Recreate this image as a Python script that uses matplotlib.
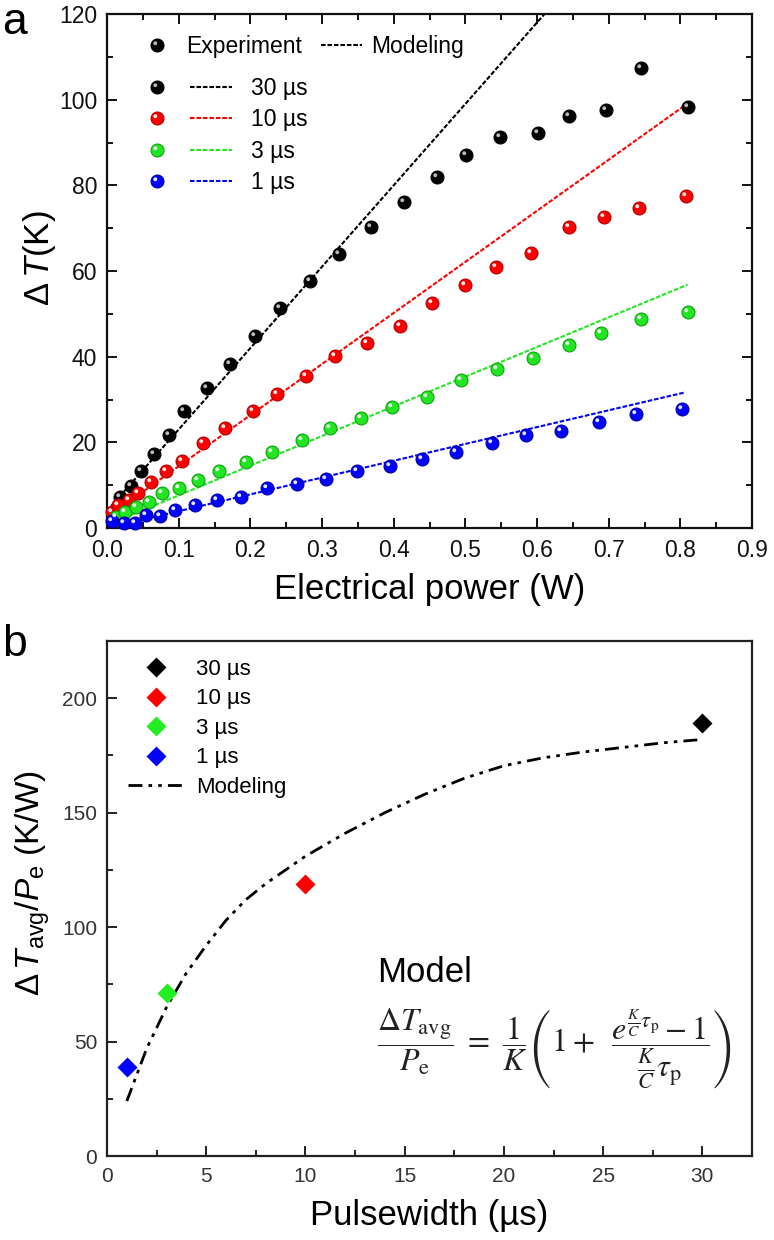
import matplotlib
matplotlib.use('Agg')
import matplotlib.pyplot as plt
from matplotlib.path import Path
from matplotlib.lines import Line2D
from matplotlib.legend_handler import HandlerTuple
from matplotlib.ticker import MultipleLocator, FormatStrFormatter

plt.rcParams['font.family'] = ['Liberation Sans', 'DejaVu Sans']
plt.rcParams['mathtext.fontset'] = 'custom'
plt.rcParams['mathtext.rm'] = 'Liberation Sans'
plt.rcParams['mathtext.it'] = 'Liberation Sans:italic'
plt.rcParams['mathtext.bf'] = 'Liberation Sans:bold'

# ---------------- Panel a data ----------------
pulse_labels = ['30 µs', '10 µs', '3 µs', '1 µs']
series_colors = ['#000000', '#ff0000', '#22e622', '#0000ff']
edge_colors = ['#000000', '#b00000', '#10a010', '#0000a0']
hl_colors = ['#d0d0d0', '#ffffff', '#ffffff', '#ffffff']

x30 = [0.018, 0.033, 0.048, 0.065, 0.086, 0.107, 0.139, 0.172, 0.207, 0.241, 0.283,
       0.324, 0.368, 0.414, 0.460, 0.501, 0.549, 0.602, 0.645, 0.696, 0.745, 0.811]
y30 = [7.3, 9.7, 13.2, 17.2, 21.7, 27.2, 32.6, 38.4, 44.8, 51.3, 57.7,
       63.9, 70.2, 76.1, 82.0, 87.1, 91.4, 92.3, 96.3, 97.7, 107.5, 98.2]

x10 = [0.007, 0.016, 0.030, 0.043, 0.061, 0.083, 0.105, 0.134, 0.165, 0.204, 0.237, 0.277,
       0.318, 0.363, 0.409, 0.453, 0.500, 0.543, 0.592, 0.645, 0.693, 0.742, 0.808]
y10 = [3.8, 5.4, 6.5, 8.1, 10.8, 13.2, 15.6, 19.8, 23.3, 27.2, 31.3, 35.6,
       40.2, 43.1, 47.2, 52.5, 56.7, 61.0, 64.1, 70.3, 72.7, 74.8, 77.4]

x3 = [0.012, 0.025, 0.040, 0.058, 0.077, 0.101, 0.127, 0.156, 0.194, 0.230, 0.272,
      0.311, 0.355, 0.398, 0.446, 0.494, 0.544, 0.594, 0.644, 0.689, 0.745, 0.811]
y3 = [2.5, 3.7, 4.8, 6.1, 8.1, 9.3, 11.2, 13.2, 15.3, 17.8, 20.5,
      23.3, 25.6, 28.2, 30.7, 34.6, 37.1, 39.8, 42.7, 45.6, 48.7, 50.5]

x1 = [0.007, 0.024, 0.039, 0.054, 0.074, 0.095, 0.123, 0.153, 0.187, 0.223, 0.265,
      0.306, 0.349, 0.395, 0.440, 0.487, 0.537, 0.584, 0.634, 0.686, 0.738, 0.803]
y1 = [1.7, 1.1, 1.2, 3.0, 2.8, 4.2, 5.4, 6.5, 7.3, 9.3, 10.3,
      11.4, 13.2, 14.5, 16.1, 17.8, 19.8, 21.6, 22.6, 24.8, 26.6, 27.8]

# modeling lines (start / end)
model_x30 = [0.0, 0.81]
model_y30 = [4.0, 157.9]
model_x10 = [0.0, 0.805]
model_y10 = [2.5, 98.5]
model_x3 = [0.0, 0.81]
model_y3 = [0.7, 56.8]
model_x1 = [0.0, 0.805]
model_y1 = [0.0, 31.6]

exp_x = [x30, x10, x3, x1]
exp_y = [y30, y10, y3, y1]
mod_x = [model_x30, model_x10, model_x3, model_x1]
mod_y = [model_y30, model_y10, model_y3, model_y1]

# ---------------- Panel b data ----------------
pulsewidth = [30, 10, 3, 1]
ratio = [189, 119, 71, 39]
diamond_colors = ['#000000', '#ff0000', '#22ee22', '#0000ff']

curve_t = [1, 2, 3, 4, 5, 6, 7, 8, 10, 12, 14, 16, 18, 20, 22, 24, 26, 28, 30]
curve_r = [24, 47, 65, 80, 92, 103, 112, 119, 131, 141, 150, 158, 165, 170.5, 174,
           176.5, 178.5, 180.5, 182]

# ---------------- styles ----------------
BALL_MS = 9.3
hl_path = Path.circle(center=(-0.35, 0.35), radius=0.30)
model_ls = (0, (2.2, 0.9))
dashdotdot = (0, (5, 2.2, 1.3, 2.2, 1.3, 2.2))

fig = plt.figure(figsize=(7.74, 12.4), dpi=100)
axA = fig.add_axes([107/774, 1-528/1240, 645/774, 514/1240])
axB = fig.add_axes([107/774, 1-1156/1240, 645/774, 515/1240])


def ball_handles(i):
    ball = Line2D([], [], ls='none', marker='o', ms=BALL_MS,
                  mfc=series_colors[i], mec=edge_colors[i], mew=0.8)
    hl = Line2D([], [], ls='none', marker=hl_path, ms=BALL_MS*0.65,
                mfc=hl_colors[i], mec='none', alpha=0.9)
    return ball, hl


leg_handles = []
for i in range(4):
    axA.plot(mod_x[i], mod_y[i], color=series_colors[i], ls=model_ls, lw=1.5, zorder=2)
    axA.plot(exp_x[i], exp_y[i], ls='none', marker='o', ms=BALL_MS,
             mfc=series_colors[i], mec=edge_colors[i], mew=0.8, zorder=3, clip_on=False)
    axA.plot(exp_x[i], exp_y[i], ls='none', marker=hl_path, ms=BALL_MS*0.65,
             mfc=hl_colors[i], mec='none', alpha=0.9, zorder=4, clip_on=False)
    b, h = ball_handles(i)
    ln = Line2D([], [], color=series_colors[i], ls=model_ls, lw=1.5)
    leg_handles.append(((b, h), ln))

axA.set_xlim(0, 0.9)
axA.set_ylim(0, 120)
axA.xaxis.set_major_locator(MultipleLocator(0.1))
axA.xaxis.set_minor_locator(MultipleLocator(0.05))
axA.xaxis.set_major_formatter(FormatStrFormatter('%.1f'))
axA.yaxis.set_major_locator(MultipleLocator(20))
axA.yaxis.set_minor_locator(MultipleLocator(10))
axA.tick_params(which='both', direction='in', top=True, right=True, width=1.4,
                colors='#111111')
axA.tick_params(which='major', length=7)
axA.tick_params(which='minor', length=4)
axA.tick_params(axis='y', labelsize=16.5, pad=7)
axA.tick_params(axis='x', labelsize=16.5, pad=8)
for s in axA.spines.values():
    s.set_linewidth(1.6)
    s.set_color('#111111')

axA.set_xlabel('Electrical power (W)', fontsize=25, va='center')
axA.xaxis.set_label_coords(0.5, (528-590)/514)
axA.set_ylabel(r'$\Delta\,T$(K)', fontsize=25, va='center', ha='center')
axA.yaxis.set_label_coords((40-107)/645, (528-258)/514)

b0, h0 = ball_handles(0)
line0 = Line2D([], [], color='#000000', ls=model_ls, lw=1.5)
leg1 = axA.legend([(b0, h0), line0], ['Experiment', 'Modeling'], ncol=2,
                  loc='upper left', bbox_to_anchor=(0.045, 0.959), frameon=False,
                  borderpad=0, borderaxespad=0, handlelength=1.8, handletextpad=0.4,
                  columnspacing=0.8, fontsize=16.5)
axA.add_artist(leg1)
hmap = {hdl: HandlerTuple(ndivide=None, pad=0.5) for hdl in leg_handles}
leg2 = axA.legend(leg_handles, pulse_labels, loc='upper left',
                  bbox_to_anchor=(0.045, 0.878), frameon=False, borderpad=0,
                  borderaxespad=0, handlelength=4.2, handletextpad=0.8,
                  labelspacing=0.37, fontsize=16.5, handler_map=hmap)

# ---------------- Panel b ----------------
axB.plot(curve_t, curve_r, color='#000000', ls=dashdotdot, lw=2.0, zorder=2)
b_handles = []
for i in range(4):
    axB.plot([pulsewidth[i]], [ratio[i]], ls='none', marker='D', ms=10.5,
             mfc=diamond_colors[i], mec='none', zorder=3)
    b_handles.append(Line2D([], [], ls='none', marker='D', ms=10.5,
                            mfc=diamond_colors[i], mec='none'))
b_handles.append(Line2D([], [], color='#000000', ls=dashdotdot, lw=2.0))
axB.legend(b_handles, pulse_labels + ['Modeling'], loc='upper left',
           bbox_to_anchor=(0.033, 0.965), frameon=False, borderpad=0,
           borderaxespad=0, handlelength=2.5, handletextpad=0.55,
           labelspacing=0.38, fontsize=16)

axB.set_xlim(0, 32.5)
axB.set_ylim(0, 225)
axB.xaxis.set_major_locator(MultipleLocator(5))
axB.xaxis.set_minor_locator(MultipleLocator(2.5))
axB.yaxis.set_major_locator(MultipleLocator(50))
axB.yaxis.set_minor_locator(MultipleLocator(25))
axB.tick_params(which='both', direction='in', width=1.4, colors='#222222',
                labelcolor='#333333')
axB.tick_params(which='major', length=7)
axB.tick_params(which='minor', length=4)
axB.tick_params(axis='y', labelsize=15, pad=7)
axB.tick_params(axis='x', labelsize=15, pad=8)
for s in axB.spines.values():
    s.set_linewidth(1.6)
    s.set_color('#222222')

axB.set_xlabel('Pulsewidth (µs)', fontsize=25, va='center')
axB.xaxis.set_label_coords(0.5, (1156-1215)/515)
axB.set_ylabel(r'$\Delta\,T_{\mathrm{avg}}/P_{\mathrm{e}}$ (K/W)', fontsize=24,
               va='center', ha='center')
axB.yaxis.set_label_coords((33-107)/645, (1156-883)/515)

axB.text((377-107)/645, (1156-972)/515, 'Model', transform=axB.transAxes,
         fontsize=25, ha='left', va='center')
axB.text((377-107)/645, (1156-1049)/515,
         r'$\dfrac{\mathit{\Delta} T_{\mathrm{avg}}}{P_{\mathrm{e}}}\ =\ \dfrac{1}{K}\left(1+\;\;'
         r'\dfrac{e^{\frac{K}{C}\tau_{\mathrm{p}}}-1}{\frac{K}{C}\tau_{\mathrm{p}}}\right)$',
         transform=axB.transAxes, fontsize=23, ha='left', va='center',
         math_fontfamily='stix', color='#222222')

fig.text(2/774, 1-22/1240, 'a', fontsize=32, ha='left', va='center')
fig.text(2/774, 1-645/1240, 'b', fontsize=32, ha='left', va='center')

fig.savefig('out.png', dpi=100)
